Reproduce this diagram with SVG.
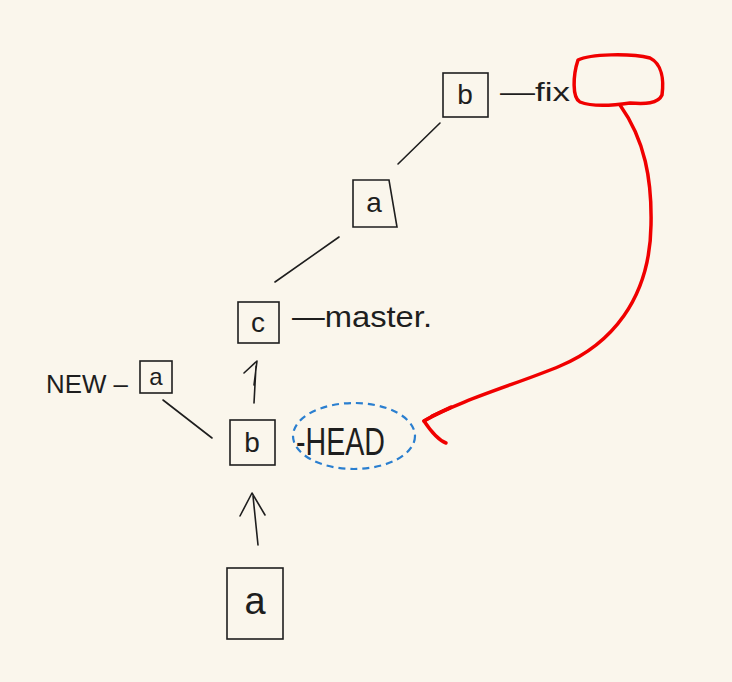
<svg xmlns="http://www.w3.org/2000/svg" width="732" height="682" viewBox="0 0 732 682">
<style>
.box{fill:none;stroke:#1e1e1e;stroke-width:1.6}
.ln{fill:none;stroke:#1e1e1e;stroke-width:1.6;stroke-linecap:round;stroke-linejoin:round}
.t{font-family:"Liberation Sans","DejaVu Sans",sans-serif;fill:#1e1e1e}
.in{text-anchor:middle;font-size:28px}
.red{fill:none;stroke:#f00000;stroke-width:3.5;stroke-linecap:round;stroke-linejoin:round}
.blue{fill:none;stroke:#2a7fd0;stroke-width:2.2;stroke-dasharray:7 5}
</style>
<rect width="732" height="682" fill="#faf6ec"/>
<g id="connectors">
<path class="ln" d="M440,123 L398,164"/>
<path class="ln" d="M339,237 L275,282"/>
<path class="ln" d="M163,400 L212,438"/>
<path class="ln" d="M254,403 L256,366 M244,373 L257,361 L254,385"/>
<path class="ln" d="M258,545 L253,496 M240,516 L252,493 L265,515"/>
<path class="red" d="M620,105 C645,140 652,180 651,225 C650,300 610,345 560,366 C520,383 460,400 424,421"/>
<path class="red" d="M424,421 C435,414 445,410 451,407 M424,421 C430,430 438,440 446,443"/>
<path class="red" stroke-width="5" d="M432,416 L450,408"/>
</g>
<g id="node-b-top">
<rect class="box" x="443" y="73" width="45" height="44"/>
<text class="t in" x="465" y="104">b</text>
<text class="t" x="500" y="101" font-size="26" textLength="70" lengthAdjust="spacingAndGlyphs">—fix</text>
</g>
<g id="red-blob">
<path class="red" d="M578,60 C590,54 630,53 650,58 C662,64 664,80 662,95 C658,104 645,104 630,103 C610,106 590,106 580,102 C572,98 573,75 578,60 Z"/>
</g>
<g id="node-a-mid">
<path class="box" d="M353,180 L389,180 L397,227 L353,227 Z"/>
<text class="t in" x="374" y="212">a</text>
</g>
<g id="node-c">
<rect class="box" x="238" y="302" width="41" height="41"/>
<text class="t in" x="258" y="332">c</text>
<text class="t" x="292" y="327" font-size="30" textLength="140" lengthAdjust="spacingAndGlyphs">—master.</text>
</g>
<g id="node-new-a">
<rect class="box" x="140" y="361" width="32" height="32"/>
<text class="t" x="156" y="385" font-size="24" text-anchor="middle">a</text>
<text class="t" x="46" y="393" font-size="25" textLength="82" lengthAdjust="spacingAndGlyphs">NEW –</text>
</g>
<g id="node-b-head">
<rect class="box" x="230" y="420" width="45" height="45"/>
<text class="t in" x="252" y="452">b</text>
<text class="t" x="296" y="455" font-size="38" textLength="89" lengthAdjust="spacingAndGlyphs">-HEAD</text>
<ellipse class="blue" cx="354" cy="436" rx="61" ry="33"/>
</g>
<g id="node-a-bottom">
<rect class="box" x="227" y="568" width="56" height="71"/>
<text class="t" x="255" y="614" font-size="38" text-anchor="middle">a</text>
</g>
</svg>
